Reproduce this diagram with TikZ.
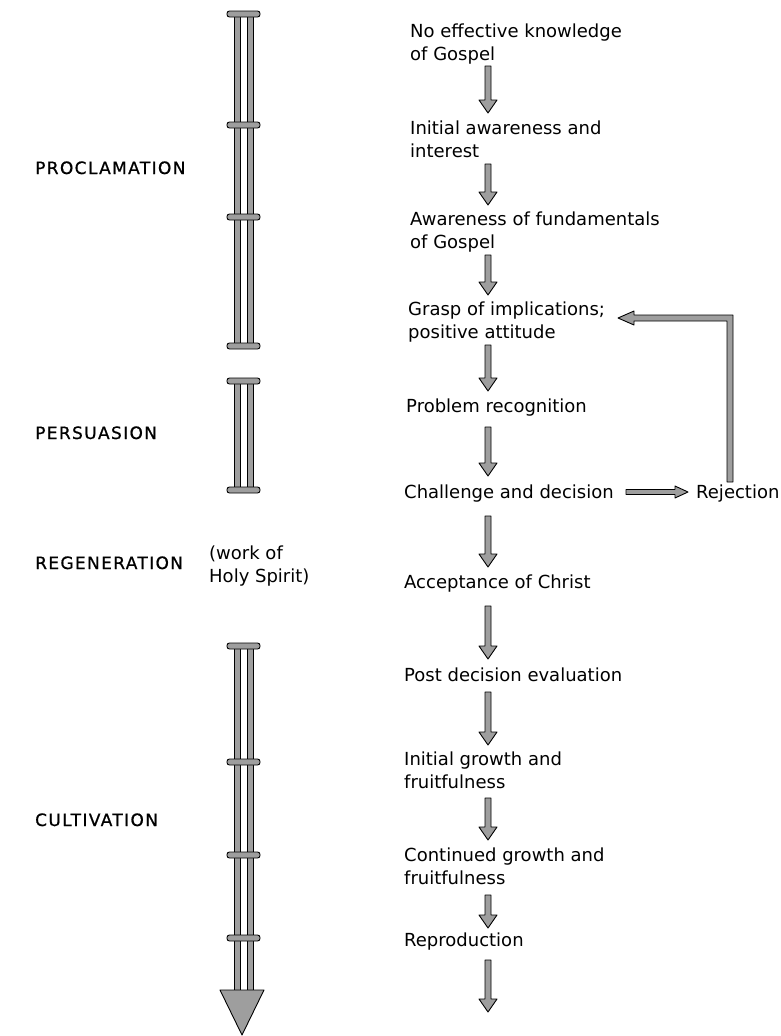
\documentclass[tikz,border=0pt]{standalone}
\usepackage{fontspec}
\setmainfont{DejaVu Sans}
\newfontfamily\labfont[LetterSpace=8,FakeBold=0.8]{DejaVu Sans}
\usetikzlibrary{calc}
\definecolor{fillgray}{gray}{0.62}
\begin{document}
\begin{tikzpicture}[x=1pt,y=-1pt,
  txt/.style={anchor=base west, inner sep=0pt, align=left, font=\fontsize{18}{23}\selectfont},
  lab/.style={anchor=base west, inner sep=0pt, font=\labfont\fontsize{17}{20}\selectfont},
  part/.style={draw=black, line width=0.9pt, fill=fillgray, line join=round},
  capbar/.style={part, rounded corners=2.5pt},
  vdown/.style={part, to path={let \p1=(\tikztostart), \p2=(\tikztotarget) in
     (\x1-3pt,\y1) -- (\x1-3pt,\y2+13pt) -- (\x1-9pt,\y2+13pt) -- (\x1,\y2)
     -- (\x1+9pt,\y2+13pt) -- (\x1+3pt,\y2+13pt) -- (\x1+3pt,\y1) -- cycle}},
  hright/.style={part, to path={let \p1=(\tikztostart), \p2=(\tikztotarget) in
     (\x1,\y1+2.5pt) -- (\x2-13pt,\y1+2.5pt) -- (\x2-13pt,\y1+6pt) -- (\x2,\y1)
     -- (\x2-13pt,\y1-6pt) -- (\x2-13pt,\y1-2.5pt) -- (\x1,\y1-2.5pt) -- cycle}}
]
\useasboundingbox (0,0) rectangle (781,1036);

% ---- left labels
\node[lab] (lproc) at (35,174) {PROCLAMATION};
\node[lab] (lpers) at (35,439) {PERSUASION};
\node[lab] (lregen) at (35,569) {REGENERATION};
\node[lab] (lcult) at (35,826) {CULTIVATION};
\node[txt] (holy) at (209,582) {(work of\\Holy Spirit)};

% ---- proclamation column
\draw[part] (234,14) rectangle (240,346);
\draw[part] (247,14) rectangle (253,346);
\foreach \yy in {14,125,217,346}
  \draw[capbar] (227,\yy-3) rectangle (260,\yy+3);

% ---- persuasion column
\draw[part] (234,381) rectangle (240,490);
\draw[part] (247,381) rectangle (253,490);
\foreach \yy in {381,490}
  \draw[capbar] (227,\yy-3) rectangle (260,\yy+3);

% ---- cultivation column
\draw[part] (234,646) rectangle (240,991);
\draw[part] (247,646) rectangle (253,991);
\foreach \yy in {646,762,855,938}
  \draw[capbar] (227,\yy-3) rectangle (260,\yy+3);
\draw[part] (220,990) -- (264,990) -- (242,1035) -- cycle;

% ---- right column texts (base = baseline of last line)
\node[txt] (t1) at (410,60) {No effective knowledge\\of Gospel};
\node[txt] (t2) at (410,157) {Initial awareness and\\interest};
\node[txt] (t3) at (410,248) {Awareness of fundamentals\\of Gospel};
\node[txt] (t4) at (408,338) {Grasp of implications;\\positive attitude};
\node[txt] (t5) at (406,412) {Problem recognition};
\node[txt] (t6) at (404,498) {Challenge and decision};
\node[txt] (rej) at (696,498) {Rejection};
\node[txt] (t7) at (404,588) {Acceptance of Christ};
\node[txt] (t8) at (404,681) {Post decision evaluation};
\node[txt] (t9) at (404,788) {Initial growth and\\fruitfulness};
\node[txt] (t10) at (404,884) {Continued growth and\\fruitfulness};
\node[txt] (t11) at (404,946) {Reproduction};

% ---- arrow end points
\coordinate (a1s) at (488,66);  \coordinate (a1e) at (488,113);
\coordinate (a2s) at (488,164); \coordinate (a2e) at (488,205);
\coordinate (a3s) at (488,255); \coordinate (a3e) at (488,295);
\coordinate (a4s) at (488,345); \coordinate (a4e) at (488,391);
\coordinate (a5s) at (488,427); \coordinate (a5e) at (488,476);
\coordinate (a6s) at (488,516); \coordinate (a6e) at (488,567);
\coordinate (a7s) at (488,606); \coordinate (a7e) at (488,659);
\coordinate (a8s) at (488,692); \coordinate (a8e) at (488,745);
\coordinate (a9s) at (488,798); \coordinate (a9e) at (488,840);
\coordinate (a10s) at (488,895); \coordinate (a10e) at (488,928);
\coordinate (a11s) at (488,960); \coordinate (a11e) at (488,1012);

\foreach \i in {1,...,11}
  \draw[vdown] (a\i s) to (a\i e);

% ---- challenge -> rejection
\coordinate (hs) at (626,492);
\coordinate (he) at (688,492);
\draw[hright] (hs) to (he);

% ---- feedback loop rejection -> grasp
\coordinate (rejtop) at (730,482);
\coordinate (fbcorner) at (730,318);
\coordinate (fbtip) at (618,318);
\draw[part] ($(rejtop)+(-3,0)$) -- ($(fbcorner)+(-3,3)$) -- ($(fbtip)+(16,3)$)
  -- ($(fbtip)+(16,7)$) -- (fbtip) -- ($(fbtip)+(16,-7)$) -- ($(fbtip)+(16,-3)$)
  -- ($(fbcorner)+(3,-3)$) -- ($(rejtop)+(3,0)$) -- cycle;
\end{tikzpicture}
\end{document}
